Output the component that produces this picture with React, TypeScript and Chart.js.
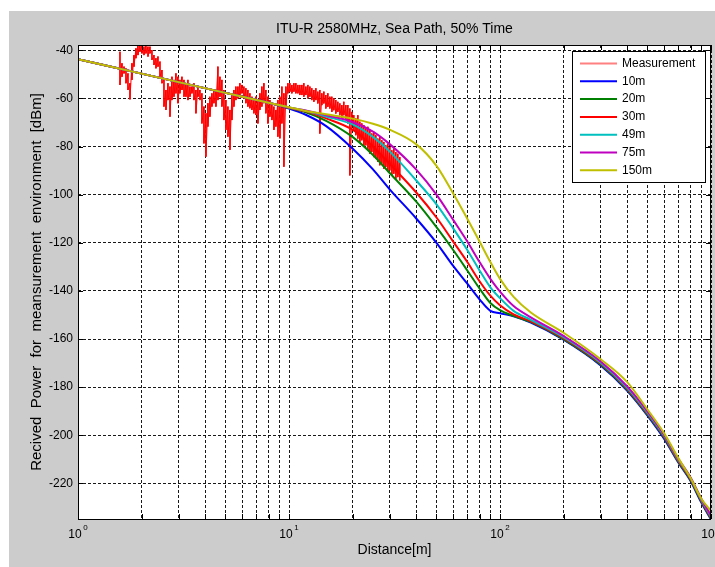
import React, { useEffect, useRef } from "react";
import { Chart, registerables } from "chart.js";

Chart.register(...registerables);

const FONT = "'Liberation Sans', Arial, Helvetica, sans-serif";

const TITLE = "ITU-R 2580MHz, Sea Path, 50% Time";
const X_TITLE = "Distance[m]";
const Y_TITLE = "Recived  Power  for  meansurement  environment  [dBm]";

const SERIES_NAMES = ["Measurement", "10m", "20m", "30m", "49m", "75m", "150m"];
const SERIES_COLORS = ["#ff0000", "#0000ff", "#008000", "#ff0000", "#00bfbf", "#bf00bf", "#bfbf00"];
const LEGEND_COLORS = ["#ff8080", "#0000ff", "#008000", "#ff0000", "#00bfbf", "#bf00bf", "#bfbf00"];

const Y_TICKS = [-40, -60, -80, -100, -120, -140, -160, -180, -200, -220];
const X_MAJOR = [1, 10, 100, 1000];
const X_EXPONENTS = ["0", "1", "2", "3"];
const X_GRID = [1, 2, 3, 4, 5, 6, 7, 8, 9, 10, 20, 30, 40, 50, 60, 70, 80, 90, 100, 200, 300, 400, 500, 600, 700, 800, 900, 1000];

// Measured trace: distance [m], upper and lower envelope of the noisy samples [dBm]
const MEAS_D = [
  1.581, 1.616, 1.652, 1.688, 1.725, 1.763, 1.802, 1.842, 1.882, 1.924,
  1.966, 2.01, 2.054, 2.099, 2.146, 2.193, 2.241, 2.291, 2.341, 2.393,
  2.446, 2.5, 2.555, 2.611, 2.669, 2.728, 2.788, 2.849, 2.912, 2.976,
  3.042, 3.109, 3.178, 3.248, 3.319, 3.393, 3.467, 3.544, 3.622, 3.702,
  3.784, 3.867, 3.952, 4.039, 4.128, 4.219, 4.312, 4.407, 4.505, 4.604,
  4.706, 4.809, 4.915, 5.024, 5.134, 5.248, 5.363, 5.482, 5.602, 5.726,
  5.852, 5.981, 6.113, 6.248, 6.386, 6.527, 6.67, 6.818, 6.968, 7.122,
  7.279, 7.439, 7.604, 7.771, 7.943, 8.118, 8.297, 8.48, 8.668, 8.859,
  9.054, 9.254, 9.458, 9.667, 9.88, 10.1, 10.32, 10.55, 10.78, 11.02,
  11.26, 11.51, 11.76, 12.02, 12.29, 12.56, 12.83, 13.12, 13.41, 13.7,
  14.0, 14.31, 14.63, 14.95, 15.28, 15.62, 15.96, 16.31, 16.67, 17.04,
  17.42, 17.8, 18.19, 18.6, 19.01, 19.43, 19.85, 20.29, 20.74, 21.2,
  21.66, 22.14, 22.63, 23.13, 23.64, 24.16, 24.69, 25.24, 25.79, 26.36,
  26.94, 27.54, 28.15, 28.77, 29.4, 30.05, 30.71, 31.39, 32.08, 32.79,
  33.51,
];
const MEAS_HI = [
  -40.6, -45.4, -46.8, -47.5, -49.6, -53.7, -45.4, -42.0, -39.2, -37.5,
  -37.5, -37.5, -38.5, -37.5, -38.5, -38.5, -39.9, -42.0, -43.3, -42.6,
  -44.7, -48.2, -52.3, -56.5, -53.7, -55.1, -51.0, -52.3, -49.6, -51.0,
  -52.3, -51.0, -52.3, -53.7, -52.3, -55.1, -55.1, -53.7, -56.5, -55.1,
  -56.5, -57.9, -63.4, -66.2, -62.0, -59.3, -57.9, -56.5, -56.5, -46.8,
  -51.0, -52.3, -56.5, -60.7, -63.4, -64.8, -57.9, -56.5, -55.1, -55.1,
  -53.7, -54.4, -55.1, -55.8, -56.5, -57.9, -59.3, -60.0, -59.3, -60.7,
  -57.9, -55.1, -53.7, -56.5, -59.3, -60.7, -62.0, -63.4, -64.8, -60.7,
  -59.3, -55.1, -57.9, -55.1, -53.7, -53.7, -54.4, -53.7, -53.7, -54.4,
  -54.4, -54.4, -53.7, -55.1, -54.4, -55.1, -55.8, -56.5, -55.8, -57.2,
  -56.5, -57.9, -57.2, -58.6, -57.9, -59.3, -59.3, -60.0, -60.7, -61.4,
  -62.1, -62.8, -61.4, -62.8, -62.8, -64.2, -65.6, -67.0, -68.3, -67.0,
  -69.7, -70.4, -71.1, -72.5, -71.8, -73.2, -74.6, -73.9, -75.3, -76.7,
  -76.0, -77.4, -78.1, -79.5, -78.8, -80.2, -81.6, -80.9, -82.3, -83.0,
  -84.4,
];
const MEAS_LO = [
  -54.4, -51.0, -49.6, -53.7, -56.5, -60.4, -52.3, -46.8, -43.3, -42.0,
  -40.6, -41.3, -42.0, -41.3, -42.6, -41.3, -44.0, -46.1, -47.5, -46.8,
  -51.0, -53.7, -63.4, -64.8, -60.7, -67.6, -60.7, -59.3, -57.9, -62.0,
  -57.9, -56.5, -59.3, -59.3, -60.7, -59.3, -57.9, -60.7, -66.2, -59.3,
  -60.7, -70.4, -78.7, -84.2, -71.7, -67.6, -63.4, -62.0, -63.4, -60.7,
  -59.3, -63.4, -69.0, -73.1, -75.9, -81.4, -69.0, -63.4, -60.7, -60.0,
  -58.6, -57.9, -60.0, -62.0, -63.4, -64.1, -64.8, -66.2, -66.9, -70.4,
  -64.8, -63.4, -62.0, -66.2, -70.4, -67.6, -69.0, -73.1, -71.7, -75.9,
  -76.6, -70.4, -88.4, -63.4, -57.9, -57.2, -57.9, -57.2, -57.9, -57.9,
  -58.6, -58.6, -59.3, -58.6, -60.0, -59.3, -60.7, -61.4, -60.7, -62.1,
  -74.6, -62.8, -62.1, -64.2, -63.5, -64.2, -65.6, -64.9, -66.3, -65.6,
  -67.0, -68.3, -67.0, -69.0, -70.4, -92.0, -71.1, -73.2, -75.3, -76.7,
  -78.1, -77.4, -80.2, -79.5, -81.6, -83.0, -82.3, -84.4, -85.0, -86.4,
  -87.8, -87.1, -89.2, -88.5, -90.6, -89.9, -92.0, -91.3, -93.4, -92.7,
  -94.1,
];

// ITU-R model curves, one per antenna height
const MODEL_D = [1, 2, 5, 8, 10, 12, 15, 20, 25, 30, 40, 50, 60, 70, 80, 90, 100, 116, 140, 200, 300, 400, 500, 600, 700, 800, 900, 1000];
const H10 = [-43.7, -49.7, -57.7, -61.8, -64.2, -66.8, -71.5, -80.8, -89.5, -97.8, -109.8, -120, -129.6, -137, -143.5, -148.3, -149.3, -150.6, -153.2, -160.3, -171, -181.4, -191.8, -201.5, -211.3, -219, -228, -235];
const H20 = [-43.7, -49.7, -57.7, -61.8, -64, -65.8, -69.3, -76, -83.5, -91, -102.8, -113.5, -123, -131.5, -139, -145, -148, -150.4, -152.9, -160, -170.6, -181, -191.4, -201, -211, -218.6, -227.5, -234.6];
const H30 = [-43.7, -49.7, -57.7, -61.8, -63.9, -65.4, -68.3, -73, -80, -87.2, -99, -109.5, -119.5, -128, -136, -142, -146, -149.8, -152.6, -159.6, -170.2, -180.6, -191, -200.6, -210.6, -218.2, -227.2, -234.2];
const H49 = [-43.7, -49.7, -57.7, -61.8, -63.8, -65.1, -67.5, -70.8, -76, -82, -94, -104, -114, -123, -131.5, -138.5, -143, -148.3, -152, -159.2, -169.8, -180.2, -190.6, -200.2, -210.2, -217.8, -226.8, -233.8];
const H75 = [-43.7, -49.7, -57.7, -61.8, -63.8, -65, -67, -69.8, -73.8, -79, -89.5, -100, -110.5, -119.5, -128, -135, -140.3, -146.3, -151, -158.7, -169.3, -179.6, -190.1, -199.8, -209.8, -217.5, -226.4, -233.3];
const H150 = [-43.7, -49.7, -57.7, -61.8, -63.7, -65.2, -66.6, -68.4, -70.5, -73, -79, -88, -99.5, -110, -119.5, -128, -135, -142.5, -149, -157.4, -168.4, -177.8, -189.3, -199.2, -209.5, -217.8, -226.4, -231.5];
const MODELS = [H10, H20, H30, H49, H75, H150];

export default function App() {
  const ref = useRef<HTMLCanvasElement>(null);

  useEffect(() => {
    const canvas = ref.current;
    if (!canvas) return;

    const measPoints: { x: number; y: number }[] = [];
    MEAS_D.forEach((d, i) => {
      measPoints.push({ x: d, y: MEAS_HI[i] });
      measPoints.push({ x: d, y: MEAS_LO[i] });
    });

    const datasets: any[] = [
      {
        label: SERIES_NAMES[0],
        data: measPoints,
        borderColor: SERIES_COLORS[0],
        borderWidth: 1,
        pointRadius: 0,
        tension: 0,
        order: 10,
      },
    ];
    MODELS.forEach((vals, k) => {
      datasets.push({
        label: SERIES_NAMES[k + 1],
        data: MODEL_D.map((d, i) => ({ x: d, y: vals[i] })),
        borderColor: SERIES_COLORS[k + 1],
        borderWidth: 2,
        pointRadius: 0,
        cubicInterpolationMode: "monotone",
        borderJoinStyle: "round",
        order: 9 - k,
      });
    });

    const framePlugin = {
      id: "matlabFrame",
      beforeDraw(chart: any) {
        const { ctx, chartArea: a } = chart;
        ctx.save();
        ctx.fillStyle = "#ffffff";
        ctx.fillRect(0, 0, chart.width, chart.height);
        ctx.fillStyle = "#cccccc";
        ctx.fillRect(9, 11, chart.width - 9, chart.height - 11);
        ctx.fillStyle = "#ffffff";
        ctx.fillRect(a.left, a.top, a.right - a.left, a.bottom - a.top);
        ctx.restore();
      },
      afterDraw(chart: any) {
        const { ctx, chartArea: a } = chart;
        const xs = chart.scales.x;
        const ys = chart.scales.y;
        ctx.save();
        // axes box
        ctx.strokeStyle = "#000";
        ctx.lineWidth = 1;
        ctx.setLineDash([]);
        ctx.strokeRect(a.left + 0.5, a.top + 0.5, a.right - a.left - 1, a.bottom - a.top);
        // tick marks (inside)
        const tl = 5;
        ctx.beginPath();
        Y_TICKS.forEach((v) => {
          const y = Math.round(ys.getPixelForValue(v)) + 0.5;
          ctx.moveTo(a.left, y);
          ctx.lineTo(a.left + tl, y);
          ctx.moveTo(a.right, y);
          ctx.lineTo(a.right - tl, y);
        });
        X_GRID.forEach((v) => {
          const x = Math.round(xs.getPixelForValue(v)) + 0.5;
          ctx.moveTo(x, a.bottom);
          ctx.lineTo(x, a.bottom - tl);
          ctx.moveTo(x, a.top);
          ctx.lineTo(x, a.top + tl);
        });
        ctx.stroke();

        // x tick labels 10^n
        ctx.fillStyle = "#000";
        X_MAJOR.forEach((v, i) => {
          const x = xs.getPixelForValue(v);
          ctx.font = `12px ${FONT}`;
          const w1 = ctx.measureText("10").width;
          ctx.font = `8px ${FONT}`;
          const w2 = ctx.measureText(X_EXPONENTS[i]).width;
          const total = w1 + 1.5 + w2;
          const x0 = x - total / 2;
          ctx.textAlign = "left";
          ctx.textBaseline = "alphabetic";
          ctx.font = `12px ${FONT}`;
          ctx.fillText("10", x0, 538);
          ctx.font = `8px ${FONT}`;
          ctx.fillText(X_EXPONENTS[i], x0 + w1 + 1.5, 530);
        });

        // titles
        const cx = (a.left + a.right) / 2;
        ctx.textAlign = "center";
        ctx.textBaseline = "middle";
        ctx.font = `14px ${FONT}`;
        ctx.fillText(TITLE, cx, 29);
        ctx.fillText(X_TITLE, cx, 550);
        ctx.save();
        ctx.translate(37, (a.top + a.bottom) / 2);
        ctx.rotate(-Math.PI / 2);
        ctx.font = `15px ${FONT}`;
        ctx.fillText(Y_TITLE, 0, 0);
        ctx.restore();

        // legend
        const lx = 572.5, ly = 51.5, lw = 133, lh = 131;
        ctx.fillStyle = "#fff";
        ctx.fillRect(lx, ly, lw, lh);
        ctx.strokeStyle = "#000";
        ctx.lineWidth = 1;
        ctx.strokeRect(lx, ly, lw, lh);
        ctx.font = `12px ${FONT}`;
        ctx.textAlign = "left";
        ctx.textBaseline = "middle";
        SERIES_NAMES.forEach((name, i) => {
          const y = 63.5 + i * 17.8;
          ctx.strokeStyle = LEGEND_COLORS[i];
          ctx.lineWidth = 2;
          ctx.beginPath();
          ctx.moveTo(580, y);
          ctx.lineTo(617, y);
          ctx.stroke();
          ctx.fillStyle = "#000";
          ctx.fillText(name, 622, y);
        });
        ctx.restore();
      },
    };

    const gridStyle = { color: "rgba(0,0,0,0.9)", lineWidth: 1, drawTicks: false };

    const chart = new Chart(canvas, {
      type: "line",
      data: { datasets },
      options: {
        animation: false,
        responsive: false,
        devicePixelRatio: 1,
        events: [],
        layout: { padding: { top: 45, right: 4, left: 0, bottom: 0 } },
        plugins: {
          legend: { display: false },
          title: { display: false },
          tooltip: { enabled: false },
        },
        elements: { point: { radius: 0 } },
        scales: {
          x: {
            type: "logarithmic",
            min: 1,
            max: 1000,
            afterBuildTicks: (s: any) => {
              s.ticks = X_GRID.map((v) => ({ value: v }));
            },
            afterFit: (s: any) => {
              s.height = 48;
            },
            ticks: { display: false },
            grid: gridStyle,
            border: { display: false, dash: [3, 2] },
          },
          y: {
            type: "linear",
            min: -234.8,
            max: -37.8,
            afterBuildTicks: (s: any) => {
              s.ticks = Y_TICKS.map((v) => ({ value: v }));
            },
            afterFit: (s: any) => {
              s.width = 78;
            },
            ticks: {
              color: "#000",
              font: { family: FONT, size: 12 },
              padding: 5,
              callback: (v: any) => String(v),
            },
            grid: gridStyle,
            border: { display: false, dash: [3, 2] },
          },
        },
      } as any,
      plugins: [framePlugin],
    });

    return () => chart.destroy();
  }, []);

  return (
    <div style={{ position: "fixed", left: 0, top: 0, width: 715, height: 567 }}>
      <canvas ref={ref} width={715} height={567} style={{ display: "block", width: "715px", height: "567px" }} />
    </div>
  );
}
